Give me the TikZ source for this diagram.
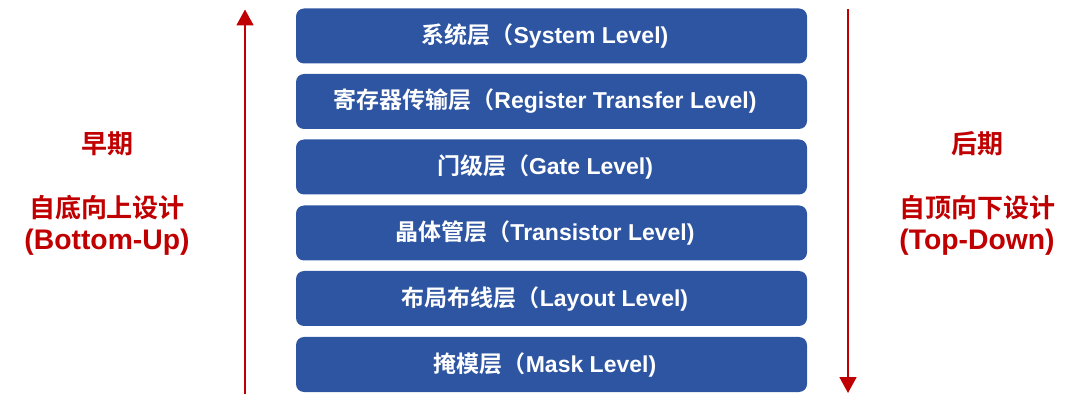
\documentclass[tikz,border=0pt]{standalone}
\usepackage{fontspec}
\setmainfont{Noto Sans CJK SC}
\newfontfamily\cjkb{Noto Sans CJK SC Bold}
\newfontfamily\latb{Liberation Sans}[BoldFont=* Bold]
\newcommand{\lt}[1]{{\latb\bfseries #1}}
\usetikzlibrary{arrows.meta}
\definecolor{boxblue}{HTML}{2E55A1}
\definecolor{darkred}{HTML}{C00000}
\tikzset{
  x=1pt,y=1pt,
  layer/.style={fill=boxblue,draw=none,rounded corners=8pt,minimum width=511pt,minimum height=55pt,inner sep=0pt,text=white,font=\cjkb\fontsize{23}{28}\selectfont,execute at end node={\hspace*{13pt}}},
  side/.style={text=darkred,font=\cjkb\fontsize{26}{30}\selectfont,inner sep=0pt},
  sidelat/.style={text=darkred,font=\latb\bfseries\fontsize{28.3}{32}\selectfont,inner sep=0pt},
  flow/.style={draw=darkred,line width=1.8pt,-{Triangle[length=16pt,width=17pt]}}
}
\begin{document}
\begin{tikzpicture}
\useasboundingbox (0,0) rectangle (1080,-406);
\node[layer] (l1) at (551.5,-36) {系统层（\lt{System Level)}};
\node[layer] (l2) at (551.5,-101.5) {寄存器传输层（\lt{Register Transfer Level)}};
\node[layer] (l3) at (551.5,-167) {门级层（\lt{Gate Level)}};
\node[layer] (l4) at (551.5,-233) {晶体管层（\lt{Transistor Level)}};
\node[layer] (l5) at (551.5,-298.5) {布局布线层（\lt{Layout Level)}};
\node[layer] (l6) at (551.5,-364.5) {掩模层（\lt{Mask Level)}};
\coordinate (ab) at (245,-394);
\coordinate (at) at (245,-9.5);
\coordinate (bt) at (848,-9);
\coordinate (bb) at (848,-393);
\draw[flow] (ab) -- (at);
\draw[flow] (bt) -- (bb);
\node[side] (e1) at (107,-144) {早期};
\node[side] (e2) at (107,-208) {自底向上设计};
\node[sidelat] (e3) at (107,-242) {(Bottom-Up)};
\node[side] (h1) at (977,-144) {后期};
\node[side] (h2) at (977,-208) {自顶向下设计};
\node[sidelat] (h3) at (977,-242) {(Top-Down)};
\end{tikzpicture}
\end{document}
